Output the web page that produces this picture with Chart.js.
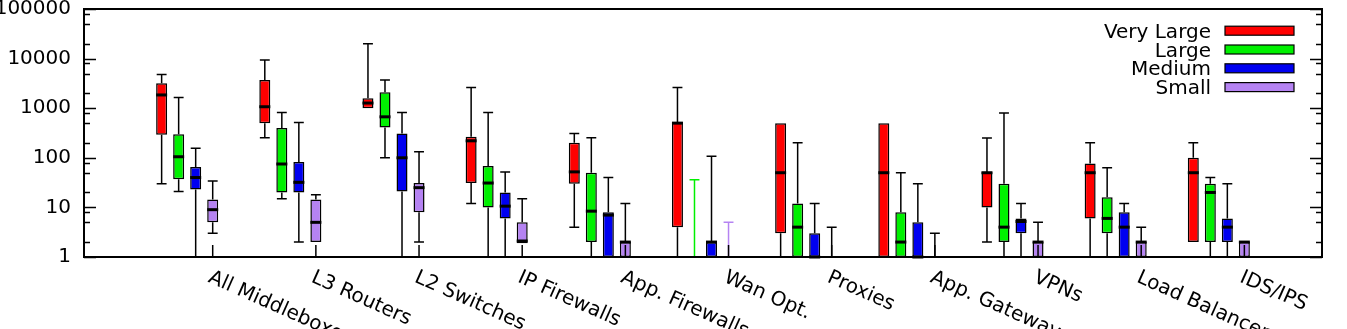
<!DOCTYPE html>
<html>
<head>
<meta charset="utf-8">
<script src="https://cdn.jsdelivr.net/npm/chart.js@4.4.0/dist/chart.umd.min.js"></script>
<style>
  html, body { margin: 0; padding: 0; background: #fff; }
  #wrap { width: 1347px; height: 329px; }
</style>
</head>
<body>
<div id="wrap"><canvas id="boxChart"></canvas></div>
<script>
// Box plot - middlebox counts per network size (log scale)
const categories = ["All Middleboxes", "L3 Routers", "L2 Switches", "IP Firewalls", "App. Firewalls",
  "Wan Opt.", "Proxies", "App. Gateways", "VPNs", "Load Balancers", "IDS/IPS"];
const seriesNames = ["Very Large", "Large", "Medium", "Small"];
const yTicks = [1, 10, 100, 1000, 10000, 100000];
const minorSteps = [2, 5, 8];

// each entry: [min, q1, median, q3, max]
const veryLarge = [
  [30, 290, 1850, 3200, 4800],
  [255, 500, 1070, 3700, 9400],
  [1000, 1000, 1270, 1580, 20000],
  [12, 31, 220, 265, 2600],
  [4, 30, 52, 200, 310],
  [1, 4, 500, 530, 2600],
  [1, 3, 50, 500, 500],
  [1, 1, 50, 500, 500],
  [2, 10, 50, 52, 250],
  [1, 6, 50, 77, 200],
  [2, 2, 50, 100, 200]
];
const large = [
  [21, 37, 105, 300, 1650],
  [15, 20, 75, 400, 820],
  [100, 410, 670, 2100, 3700],
  [1, 10, 31, 68, 820],
  [1, 2, 8.4, 50, 255],
  [1, 1, 1, 1, 36],
  [1, 1, 4, 12, 200],
  [1, 1, 2, 8, 50],
  [1, 2, 4, 30, 800],
  [1, 3, 6, 16, 63],
  [1, 2, 20, 30, 40]
];
const medium = [
  [1, 23, 40, 65, 155],
  [2, 20, 32, 82, 515],
  [1, 21, 100, 310, 820],
  [1, 6, 10.6, 20, 52],
  [1, 1, 7, 8, 40],
  [1, 1, 2, 2, 108],
  [1, 1, 1, 3, 12],
  [1, 1, 1, 5, 30],
  [1, 3, 5.2, 6, 12],
  [1, 1, 4, 8, 12],
  [1, 2, 4, 6, 30]
];
const small = [
  [3, 5, 9, 14.5, 34],
  [2, 2, 5, 14.5, 18],
  [2, 8, 25, 31, 133],
  [1.9, 1.9, 2.1, 5, 15],
  [1, 1, 2, 2, 12],
  [1, 1, 1, 1, 5],
  [1, 1, 1, 1, 4],
  [1, 1, 1, 1, 3],
  [1, 1, 2, 2, 5],
  [1, 1, 2, 2, 4],
  [1, 1, 2, 2, 2]
];

const allSeries = [veryLarge, large, medium, small];
const seriesColors = ["#ff0000", "#00f000", "#0000f0", "#b583f2"];
// whiskers drawn in the series colour instead of black: [category, series]
const tintedWhiskers = [[5, 1], [5, 3]];
const FONT = "DejaVu Sans";

// blank slot at each end so groups sit one step in from the frame
const labels = ["", ...categories, ""];
const pad = arr => [null, ...arr.map(d => (d[3] > d[1] ? [d[1], d[3]] : null)), null];

const boxExtras = {
  id: "boxExtras",
  afterDatasetsDraw(chart) {
    const { ctx, scales: { y } } = chart;
    ctx.save();
    allSeries.forEach((series, s) => {
      const meta = chart.getDatasetMeta(s);
      series.forEach((d, j) => {
        const bar = meta.data[j + 1];
        if (!bar) return;
        const [lo, q1, med, q3, hi] = d;
        const x = bar.x, w = bar.width, cap = w * 0.45;
        const tinted = tintedWhiskers.some(t => t[0] === j && t[1] === s);
        ctx.strokeStyle = tinted ? seriesColors[s] : "#000";
        ctx.lineWidth = 1.5;
        const whisker = (from, to) => {
          if (from === to) return;
          const py = y.getPixelForValue(to);
          ctx.beginPath();
          ctx.moveTo(x, y.getPixelForValue(from));
          ctx.lineTo(x, py);
          ctx.moveTo(x - cap, py);
          ctx.lineTo(x + cap, py);
          ctx.stroke();
        };
        whisker(q3, hi);
        whisker(q1, lo);
        if (q3 > q1) {
          const py = y.getPixelForValue(med);
          ctx.strokeStyle = "#000";
          ctx.lineWidth = 3;
          ctx.beginPath();
          ctx.moveTo(x - w / 2, py);
          ctx.lineTo(x + w / 2, py);
          ctx.stroke();
        }
      });
    });
    ctx.restore();
  },
  afterDraw(chart) {
    const { ctx, chartArea: a, scales: { y } } = chart;
    ctx.save();
    ctx.strokeStyle = "#000";
    ctx.lineWidth = 1.5;
    // inward ticks on both y sides
    const yTick = (v, len) => {
      const py = Math.round(y.getPixelForValue(v)) + 0.5;
      ctx.beginPath();
      ctx.moveTo(a.left, py); ctx.lineTo(a.left + len, py);
      ctx.moveTo(a.right, py); ctx.lineTo(a.right - len, py);
      ctx.stroke();
    };
    yTicks.forEach((v, i) => {
      yTick(v, 12);
      if (i < yTicks.length - 1) minorSteps.forEach(m => yTick(v * m, 6));
    });
    // x ticks and rotated category labels
    const smallMeta = chart.getDatasetMeta(3);
    ctx.fillStyle = "#000";
    ctx.font = "20px '" + FONT + "'";
    ctx.textAlign = "left";
    ctx.textBaseline = "alphabetic";
    categories.forEach((c, j) => {
      const tx = smallMeta.data[j + 1].x;
      ctx.beginPath();
      ctx.moveTo(tx, a.bottom);
      ctx.lineTo(tx, a.bottom - 12);
      ctx.stroke();
      ctx.save();
      ctx.translate(tx - 5.5, a.bottom + 24.5);
      ctx.rotate(24 * Math.PI / 180);
      ctx.fillText(c, 0, 0);
      ctx.restore();
    });
    // frame
    ctx.lineWidth = 2;
    ctx.strokeRect(a.left, a.top, a.right - a.left, a.bottom - a.top);
    // legend, text right-aligned with swatch on the right
    ctx.textAlign = "right";
    seriesNames.forEach((name, i) => {
      const cy = 30.7 + i * 18.8;
      ctx.fillStyle = "#000";
      ctx.fillText(name, 1211, cy + 7);
      ctx.fillStyle = seriesColors[i];
      ctx.fillRect(1225, cy - 4.5, 69, 9);
      ctx.lineWidth = 1.2;
      ctx.strokeRect(1225, cy - 4.5, 69, 9);
    });
    ctx.restore();
  }
};

new Chart(document.getElementById("boxChart"), {
  type: "bar",
  data: {
    labels: labels,
    datasets: allSeries.map((series, s) => ({
      label: seriesNames[s],
      data: pad(series),
      backgroundColor: seriesColors[s],
      borderColor: "#000",
      borderWidth: 1.5,
      borderSkipped: false,
      categoryPercentage: 0.66,
      barPercentage: 0.646
    }))
  },
  options: {
    responsive: true,
    maintainAspectRatio: false,
    animation: false,
    layout: { padding: { top: 9, right: 25, left: 0, bottom: 0 } },
    plugins: { legend: { display: false }, tooltip: { enabled: false } },
    scales: {
      x: {
        offset: false,
        grid: { display: false },
        border: { display: false },
        ticks: { display: false },
        afterFit: s => { s.height = 72; s.paddingLeft = 0; s.paddingRight = 0; }
      },
      y: {
        type: "logarithmic",
        min: 1,
        max: 100000,
        grid: { display: false, drawTicks: false },
        border: { display: false },
        afterBuildTicks: s => { s.ticks = yTicks.map(v => ({ value: v })); },
        ticks: {
          autoSkip: false,
          padding: 13,
          color: "#000",
          font: { family: FONT, size: 20 },
          callback: v => String(v)
        },
        afterFit: s => { s.width = 84; s.paddingTop = 0; s.paddingBottom = 0; }
      }
    }
  },
  plugins: [boxExtras]
});
</script>
</body>
</html>
